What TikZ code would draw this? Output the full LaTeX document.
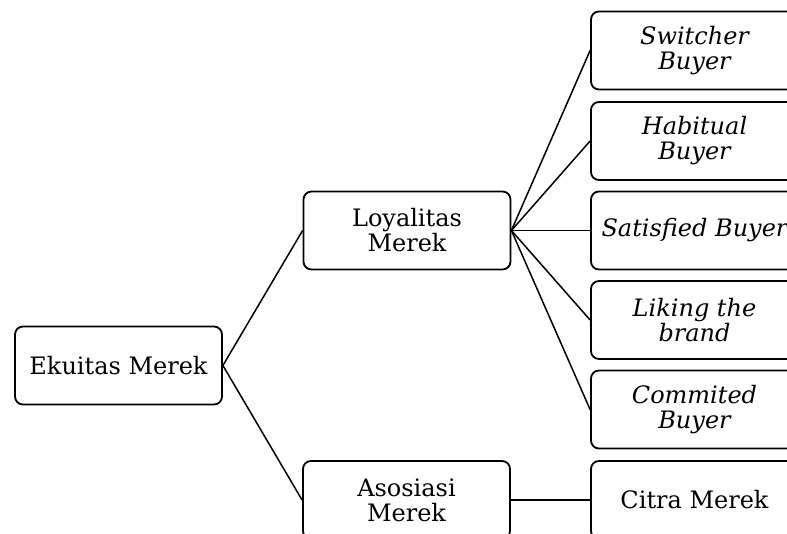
\documentclass[tikz,border=0pt]{standalone}
\usepackage{fontspec}
\setmainfont{DejaVu Serif}

\begin{document}
\begin{tikzpicture}[x=1pt, y=-1pt, line width=1.5pt,
    box/.style={draw, line width=1.8pt, rounded corners=8pt, minimum width=207pt, minimum height=78pt,
        inner sep=0pt, align=center, font=\fontsize{24}{25}\selectfont},
    buyer/.style={box, font=\fontsize{24}{25}\selectfont\itshape}]
    \useasboundingbox (0, 0) rectangle (787, 533);
    \clip (0, 0) rectangle (787, 533);

    \node [box] (ekuitas) at (118.5, 365.5) {Ekuitas Merek};
    \node [box] (loyalitas) at (407, 230.5) {Loyalitas\\Merek};
    \node [box] (asosiasi) at (406.5, 500) {Asosiasi\\Merek};

    \node [buyer] (switcher) at (694.5, 50.5) {Switcher\\Buyer};
    \node [buyer] (habitual) at (694.5, 141) {Habitual\\Buyer};
    \node [buyer] (satisfied) at (694.5, 230.5) {Satisfied Buyer};
    \node [buyer] (liking) at (694.5, 320) {Liking the\\brand};
    \node [buyer] (commited) at (694.5, 409.5) {Commited\\Buyer};
    \node [box] (citra) at (694.5, 500) {Citra Merek};

    \draw (ekuitas.east) -- (loyalitas.west);
    \draw (ekuitas.east) -- (asosiasi.west);

    \draw (loyalitas.east) -- (switcher.west);
    \draw (loyalitas.east) -- (habitual.west);
    \draw (loyalitas.east) -- (satisfied.west);
    \draw (loyalitas.east) -- (liking.west);
    \draw (loyalitas.east) -- (commited.west);

    \draw (asosiasi.east) -- (citra.west);
\end{tikzpicture}
\end{document}
